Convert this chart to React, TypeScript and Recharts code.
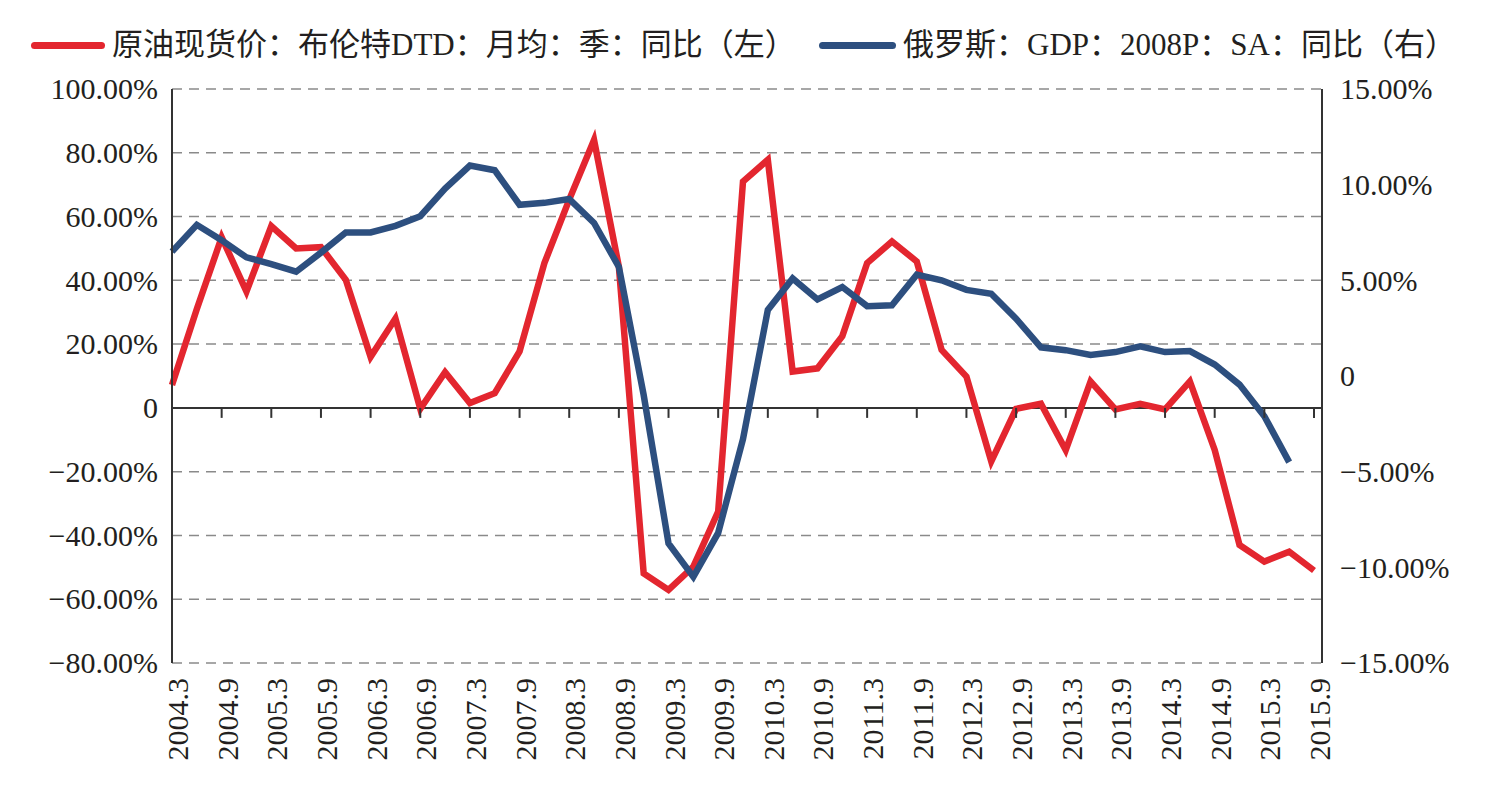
import React from 'react';
import { LineChart, Line, XAxis, YAxis, CartesianGrid, ReferenceLine } from 'recharts';

// quarter-end labels, 2004Q1 .. 2015Q3
const quarters = [
    '2004.3', '2004.6', '2004.9', '2004.12',
    '2005.3', '2005.6', '2005.9', '2005.12',
    '2006.3', '2006.6', '2006.9', '2006.12',
    '2007.3', '2007.6', '2007.9', '2007.12',
    '2008.3', '2008.6', '2008.9', '2008.12',
    '2009.3', '2009.6', '2009.9', '2009.12',
    '2010.3', '2010.6', '2010.9', '2010.12',
    '2011.3', '2011.6', '2011.9', '2011.12',
    '2012.3', '2012.6', '2012.9', '2012.12',
    '2013.3', '2013.6', '2013.9', '2013.12',
    '2014.3', '2014.6', '2014.9', '2014.12',
    '2015.3', '2015.6', '2015.9',
];

// Brent DTD, monthly avg, quarterly YoY (%), left axis
const brentYoy = [
    7.2, 31, 53.5, 36.5,
    57, 50, 50.4, 40.2,
    16, 28, -0.3, 11.2,
    1.5, 4.6, 17.7, 45.4,
    65.3, 84, 44.3, -51.9,
    -57.1, -49.8, -32.5, 71,
    77.8, 11.4, 12.4, 22.5,
    45.4, 52.2, 45.9, 18.2,
    9.8, -16.8, -0.3, 1.3,
    -13.2, 8.3, -0.5, 1.3,
    -0.5, 8.3, -13.2, -43,
    -48.2, -45.1, -51,
];

// Russia GDP (2008 prices, SA) YoY (%), right axis
const russiaGdpYoy = [
    6.5, 7.9, 7.1, 6.2,
    5.85, 5.45, 6.45, 7.5,
    7.5, 7.85, 8.35, 9.8,
    11.0, 10.75, 8.95, 9.05,
    9.25, 8.0, 5.7, -1.0,
    -8.75, -10.5, -8.2, -3.3,
    3.45, 5.1, 4.0, 4.65,
    3.65, 3.7, 5.3, 5.0,
    4.5, 4.3, 3.0, 1.5,
    1.35, 1.1, 1.25, 1.55,
    1.25, 1.3, 0.6, -0.45,
    -2.1, -4.5, null,
];

const leftTicks = [-80, -60, -40, -20, 0, 20, 40, 60, 80, 100];
const rightTicks = [-15, -10, -5, 0, 5, 10, 15];

const W = 1493;
const H = 788;
const PLOT_LEFT = 172;
const PLOT_RIGHT = 1322;
const PLOT_TOP = 89;
const PLOT_BOTTOM = 663;
const ZERO_Y = PLOT_TOP + (PLOT_BOTTOM - PLOT_TOP) * 100 / 180;

const RED = '#E3262F';
const BLUE = '#2D4F7F';
const INK = '#231F20';
const FONT = "'Liberation Serif', 'Noto Sans CJK SC', serif";
const TICK_FS = 30;

const data = quarters.map((q, i) => ({
    q,
    brent: brentYoy[i],
    gdp: russiaGdpYoy[i],
}));

const pct = (v: number) => (v === 0 ? '0' : `${v < 0 ? '\u2212' : ''}${Math.abs(v).toFixed(2)}%`);

const LeftTick = ({ y, payload }: any) => (
    <text x={PLOT_LEFT - 14} y={y} dy="0.34em" textAnchor="end" fontSize={TICK_FS} fill={INK} fontFamily={FONT}>
        {pct(payload.value)}
    </text>
);

const RightTick = ({ y, payload }: any) => (
    <text x={PLOT_RIGHT + 18} y={y} dy="0.34em" textAnchor="start" fontSize={TICK_FS} fill={INK} fontFamily={FONT}>
        {pct(payload.value)}
    </text>
);

// label at the bottom, tick mark hanging off the zero line
const QuarterTick = ({ x, payload }: any) => {
    const tx = x + 16;
    const ty = PLOT_BOTTOM + 15;
    return (
        <g>
            <line x1={x} x2={x} y1={ZERO_Y} y2={ZERO_Y + 10} stroke="#333" strokeWidth={2} />
            <text x={tx} y={ty} transform={`rotate(-90, ${tx}, ${ty})`} textAnchor="end" fontSize={TICK_FS} fill={INK} fontFamily={FONT}>
                {payload.value}
            </text>
        </g>
    );
};

const LegendRow = () => (
    <div style={{ position: 'absolute', left: 0, top: 0, width: W, height: 89, fontFamily: FONT, fontSize: 31, color: INK }}>
        <div style={{ position: 'absolute', left: 31, top: 42, width: 74, height: 7, borderRadius: 4, background: RED }} />
        <div style={{ position: 'absolute', left: 112, top: 26, lineHeight: '38px', whiteSpace: 'nowrap' }}>
            原油现货价：布伦特DTD：月均：季：同比（左）
        </div>
        <div style={{ position: 'absolute', left: 819, top: 42, width: 77, height: 7, borderRadius: 4, background: BLUE }} />
        <div style={{ position: 'absolute', left: 903, top: 26, lineHeight: '38px', whiteSpace: 'nowrap' }}>
            俄罗斯：GDP：2008P：SA：同比（右）
        </div>
    </div>
);

export default function App() {
    return (
        <div style={{ position: 'absolute', left: 0, top: 0, width: W, height: H, background: '#fff' }}>
            <LegendRow />
            <LineChart width={W} height={H} data={data} margin={{ top: PLOT_TOP, right: 0, bottom: 0, left: 0 }}>
                <CartesianGrid yAxisId="left" vertical={false} stroke="#8a8a8a" strokeWidth={1.5} strokeDasharray="10 7" />
                <XAxis
                    dataKey="q"
                    scale="point"
                    padding={{ left: 0, right: 8 }}
                    height={H - PLOT_BOTTOM}
                    interval={1}
                    axisLine={false}
                    tickLine={false}
                    tick={<QuarterTick />}
                />
                <YAxis
                    yAxisId="left"
                    width={PLOT_LEFT}
                    domain={[-80, 100]}
                    ticks={leftTicks}
                    interval={0}
                    axisLine={{ stroke: '#333', strokeWidth: 2 }}
                    tickLine={false}
                    tick={<LeftTick />}
                />
                <YAxis
                    yAxisId="right"
                    orientation="right"
                    width={W - PLOT_RIGHT}
                    domain={[-15, 15]}
                    ticks={rightTicks}
                    interval={0}
                    axisLine={{ stroke: '#333', strokeWidth: 2 }}
                    tickLine={false}
                    tick={<RightTick />}
                />
                <ReferenceLine yAxisId="left" y={0} stroke="#333" strokeWidth={2} />
                <Line yAxisId="left" type="linear" dataKey="brent" stroke={RED} strokeWidth={6.5} dot={false} isAnimationActive={false} />
                <Line yAxisId="right" type="linear" dataKey="gdp" stroke={BLUE} strokeWidth={6.5} dot={false} isAnimationActive={false} connectNulls={false} />
            </LineChart>
        </div>
    );
}
